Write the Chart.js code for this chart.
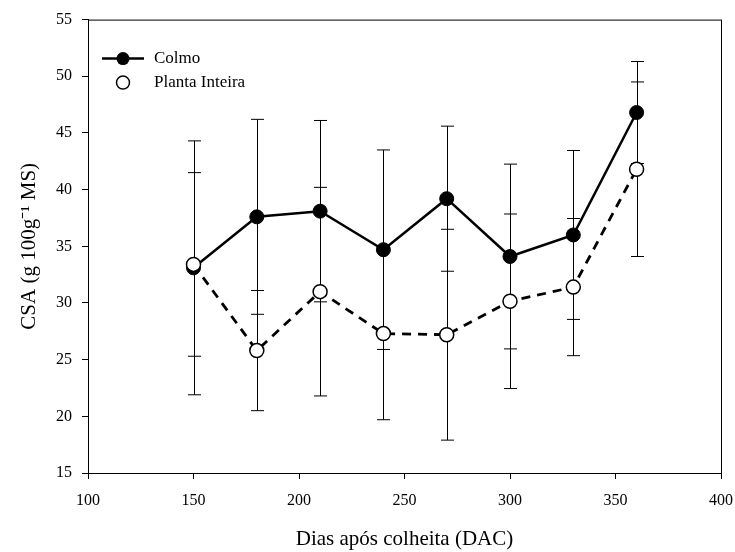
<!DOCTYPE html>
<html lang="pt">
<head>
    <meta charset="UTF-8">
    <title>CSA - Colmo e Planta Inteira</title>
    <script src="https://cdn.jsdelivr.net/npm/chart.js"></script>
    <style>
        body { margin: 0; background: white; }
        canvas { display: block; }
    </style>
</head>
<body>
    <canvas id="csaChart" width="735" height="552"></canvas>

    <script>
        // dados
        const days = [150, 180, 210, 240, 270, 300, 330, 360];
        const colmo = [33.1, 37.6, 38.1, 34.7, 39.2, 34.1, 36.0, 46.8];
        const colmoErr = [11.2, 8.6, 8.0, 8.8, 6.4, 8.15, 7.45, 4.5];
        const planta = [33.4, 25.8, 31.0, 27.3, 27.2, 30.15, 31.4, 41.8];
        const plantaErr = [8.1, 5.3, 9.2, 7.6, 9.3, 7.7, 6.05, 7.7];
        const xTicks = [100, 150, 200, 250, 300, 350, 400];
        const yTicks = [15, 20, 25, 30, 35, 40, 45, 50, 55];

        const serif = "'Liberation Serif', 'Times New Roman', serif";

        // barras de erro, desenhadas antes dos pontos
        const errorBars = {
            id: "errorBars",
            beforeDatasetsDraw(chart) {
                const { ctx, scales: { x, y } } = chart;
                const errs = [plantaErr, colmoErr];
                ctx.save();
                ctx.strokeStyle = "black";
                ctx.lineWidth = 1;
                chart.data.datasets.forEach((ds, d) => {
                    ds.data.forEach((p, i) => {
                        const px = Math.round(x.getPixelForValue(p.x)) + 0.5;
                        const hi = y.getPixelForValue(p.y + errs[d][i]);
                        const lo = y.getPixelForValue(p.y - errs[d][i]);
                        ctx.beginPath();
                        ctx.moveTo(px, hi); ctx.lineTo(px, lo);
                        ctx.moveTo(px - 6.5, hi); ctx.lineTo(px + 6.5, hi);
                        ctx.moveTo(px - 6.5, lo); ctx.lineTo(px + 6.5, lo);
                        ctx.stroke();
                    });
                });
                ctx.restore();
            }
        };

        // moldura e legenda dentro da area do grafico
        const frameLegend = {
            id: "frameLegend",
            afterDraw(chart) {
                const { ctx, chartArea: a } = chart;
                ctx.save();
                ctx.strokeStyle = "black";
                ctx.lineWidth = 1;
                ctx.strokeRect(a.left + 0.5, a.top + 0.5, a.right - a.left, a.bottom - a.top);

                const lx = a.left + 35, y1 = a.top + 39, y2 = a.top + 63;
                ctx.lineWidth = 2.5;
                ctx.beginPath();
                ctx.moveTo(lx - 21, y1); ctx.lineTo(lx + 21, y1);
                ctx.stroke();
                ctx.fillStyle = "black";
                ctx.beginPath(); ctx.arc(lx, y1, 6.5, 0, Math.PI * 2); ctx.fill();
                ctx.lineWidth = 1.5;
                ctx.fillStyle = "white";
                ctx.beginPath(); ctx.arc(lx, y2, 6.5, 0, Math.PI * 2); ctx.fill(); ctx.stroke();

                ctx.fillStyle = "black";
                ctx.font = "17px " + serif;
                ctx.textBaseline = "middle";
                ctx.fillText("Colmo", lx + 31, y1);
                ctx.fillText("Planta Inteira", lx + 31, y2);
                ctx.restore();
            }
        };

        const ctx = document.getElementById("csaChart").getContext("2d");
        new Chart(ctx, {
            type: "line",
            data: {
                datasets: [
                    {
                        label: "Planta Inteira",
                        data: days.map((d, i) => ({ x: d, y: planta[i] })),
                        borderColor: "black", borderWidth: 2.8, borderDash: [9, 7],
                        pointRadius: 7, pointBackgroundColor: "white",
                        pointBorderColor: "black", pointBorderWidth: 1.5,
                        tension: 0, fill: false
                    },
                    {
                        label: "Colmo",
                        data: days.map((d, i) => ({ x: d, y: colmo[i] })),
                        borderColor: "black", borderWidth: 2.5,
                        pointRadius: 7, pointBackgroundColor: "black",
                        pointBorderColor: "black", pointBorderWidth: 1,
                        tension: 0, fill: false
                    }
                ]
            },
            options: {
                responsive: false,
                animation: false,
                devicePixelRatio: 1,
                layout: { padding: { left: 0, top: 15, right: 14, bottom: 0 } },
                plugins: { legend: { display: false }, tooltip: { enabled: false } },
                scales: {
                    x: {
                        type: "linear", min: xTicks[0], max: xTicks[xTicks.length - 1],
                        afterBuildTicks: s => { s.ticks = xTicks.map(v => ({ value: v })); },
                        afterFit: s => { s.height = 79; s.paddingRight = 0; s.paddingLeft = 0; },
                        grid: { drawOnChartArea: false, color: "black", tickLength: 6 },
                        border: { color: "black", width: 1 },
                        ticks: { color: "black", font: { family: serif, size: 16 }, padding: 12, maxRotation: 0 },
                        title: { display: true, text: "Dias após colheita (DAC)", color: "black",
                                 font: { family: serif, size: 21 }, padding: { top: 0, bottom: 0 } }
                    },
                    y: {
                        min: yTicks[0], max: yTicks[yTicks.length - 1],
                        afterBuildTicks: s => { s.ticks = yTicks.map(v => ({ value: v })); },
                        afterFit: s => { s.width = 88; },
                        grid: { drawOnChartArea: false, color: "black", tickLength: 6 },
                        border: { color: "black", width: 1 },
                        ticks: { color: "black", font: { family: serif, size: 16 }, padding: 10 },
                        title: { display: true, text: "CSA (g 100g\u207B\u00B9 MS)", color: "black",
                                 font: { family: serif, size: 21 }, padding: { top: 17, bottom: 0 } }
                    }
                }
            },
            plugins: [errorBars, frameLegend]
        });
    </script>
</body>
</html>
